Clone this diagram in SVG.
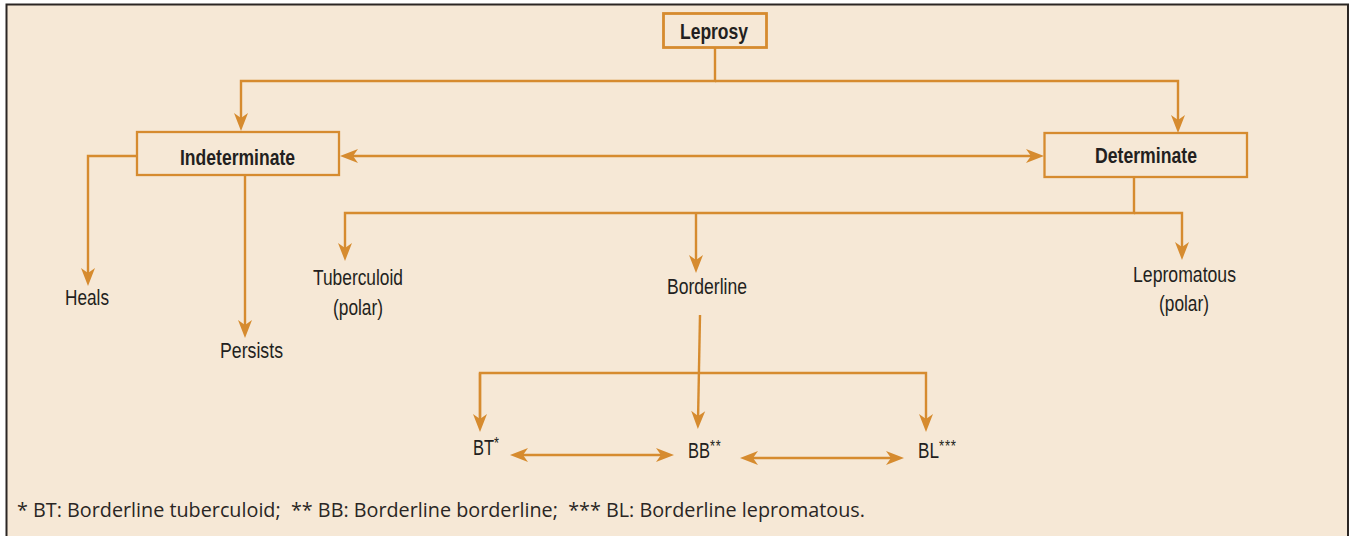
<svg xmlns="http://www.w3.org/2000/svg" width="1349" height="536" viewBox="0 0 1349 536">
<style>
.lbl{font-family:"Liberation Sans",Arial,sans-serif;font-size:22px;fill:#231f20;text-anchor:middle}
.st{text-anchor:start}
.b{font-weight:bold}
.box{fill:none;stroke:#d68b2f;stroke-width:2.3}
.ln{fill:none;stroke:#d68b2f;stroke-width:2.4}
.note{font-family:"Open Sans","Noto Sans",sans-serif;font-size:19.5px;fill:#2a2624}
.sup{font-size:17px;letter-spacing:1px}
</style>
<defs>
<marker id="ah" viewBox="-19 -8 20 16" markerWidth="20" markerHeight="16" refX="-8" refY="0" orient="auto-start-reverse" markerUnits="userSpaceOnUse">
<path d="M0,0 L-18,-7 L-13,0 L-18,7 Z" fill="#d68b2f"/>
</marker>
</defs>
<rect x="0" y="0" width="1349" height="536" fill="#ffffff"/>
<rect x="6.5" y="4.5" width="1341.5" height="545" fill="#f6e8d6" stroke="#2b2624" stroke-width="2"/>

<g id="connectors">
<path class="ln" d="M715,48 V81 H241 V123" marker-end="url(#ah)"/>
<path class="ln" d="M715,81 H1178 V125" marker-end="url(#ah)"/>
<path class="ln" d="M137,156 H88 V278" marker-end="url(#ah)"/>
<path class="ln" d="M245,175 V330" marker-end="url(#ah)"/>
<path class="ln" d="M348,156 H1036" marker-start="url(#ah)" marker-end="url(#ah)"/>
<path class="ln" d="M1134,177 V213 H345 V253" marker-end="url(#ah)"/>
<path class="ln" d="M1134,213 H1182 V252" marker-end="url(#ah)"/>
<path class="ln" d="M696,213 V265" marker-end="url(#ah)"/>
<path class="ln" d="M700,315 L698,421" marker-end="url(#ah)"/>
<path class="ln" d="M480,424 V373 H926 V424" marker-end="url(#ah)"/>
<path class="ln" d="M480,373 V424" marker-end="url(#ah)"/>
<path class="ln" d="M518,455 H666" marker-start="url(#ah)" marker-end="url(#ah)"/>
<path class="ln" d="M748,458 H896" marker-start="url(#ah)" marker-end="url(#ah)"/>
</g>

<g id="leprosy">
<rect class="box" x="663.5" y="13.5" width="103" height="34" style="stroke-width:2.8"/>
<text class="lbl b" x="714" y="39" textLength="68" lengthAdjust="spacingAndGlyphs">Leprosy</text>
</g>
<g id="indeterminate">
<rect class="box" x="137" y="132" width="202" height="43"/>
<text class="lbl b" x="237.5" y="165" textLength="115" lengthAdjust="spacingAndGlyphs">Indeterminate</text>
</g>
<g id="determinate">
<rect class="box" x="1044.5" y="133" width="202.5" height="44"/>
<text class="lbl b" x="1146" y="163" textLength="102" lengthAdjust="spacingAndGlyphs">Determinate</text>
</g>
<g id="heals">
<text class="lbl" x="87" y="305" textLength="44" lengthAdjust="spacingAndGlyphs">Heals</text>
</g>
<g id="persists">
<text class="lbl" x="251.5" y="358" textLength="63" lengthAdjust="spacingAndGlyphs">Persists</text>
</g>
<g id="tuberculoid">
<text class="lbl" x="358" y="285" textLength="90" lengthAdjust="spacingAndGlyphs">Tuberculoid</text>
<text class="lbl" x="358" y="315" textLength="50" lengthAdjust="spacingAndGlyphs">(polar)</text>
</g>
<g id="borderline">
<text class="lbl" x="707" y="294" textLength="80" lengthAdjust="spacingAndGlyphs">Borderline</text>
</g>
<g id="lepromatous">
<text class="lbl" x="1184.5" y="282" textLength="103" lengthAdjust="spacingAndGlyphs">Lepromatous</text>
<text class="lbl" x="1184" y="311" textLength="50" lengthAdjust="spacingAndGlyphs">(polar)</text>
</g>
<g id="bt">
<text class="lbl st" transform="translate(473,455) scale(0.75,1)">BT<tspan class="sup" dy="-6">*</tspan></text>
</g>
<g id="bb">
<text class="lbl st" transform="translate(688,458) scale(0.75,1)">BB<tspan class="sup" dy="-6">**</tspan></text>
</g>
<g id="bl">
<text class="lbl st" transform="translate(918,458) scale(0.78,1)">BL<tspan class="sup" dy="-6">***</tspan></text>
</g>
<g id="footnote">
<text class="note" x="17" y="517" xml:space="preserve" textLength="848" lengthAdjust="spacingAndGlyphs">* BT: Borderline tuberculoid;  ** BB: Borderline borderline;  *** BL: Borderline lepromatous.</text>
</g>
</svg>
